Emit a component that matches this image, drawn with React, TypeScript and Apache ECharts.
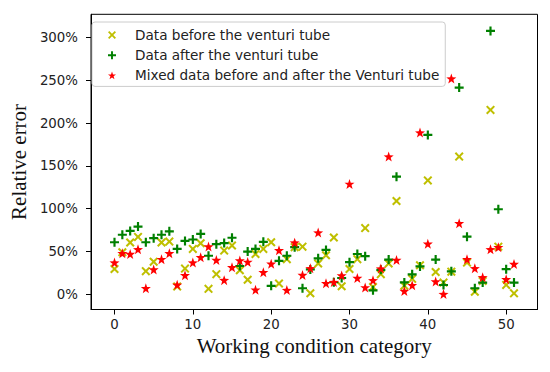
import React, { useEffect, useRef } from "react";
import * as echarts from "echarts";

const conditionIndex: number[] = Array.from({ length: 52 }, (_, i) => i);

// Relative error (%) per working condition category
const beforeVenturi: number[] = [
  29.5, 49, 60.5, 67, 27, 38, 60.5, 61.5, 9, 30,
  53, 59.6, 6.3, 23.5, 51, 57, 28, 17, 47, 53,
  60.7, 12.5, 41, 55, 55.6, 1.2, 36, 45.5, 66.3, 9.3,
  29.5, 41, 77.3, 8.5, 23.5, 36, 109, 10, 18, 33.8,
  133, 26, 13.6, 26.4, 160.8, 37, 3, 15.5, 215.3, 55.6,
  10.9, 1.1,
];
const afterVenturi: number[] = [
  60.7, 69.5, 74, 79, 60.7, 65.5, 69.5, 73.5, 53, 62.3,
  64, 70.5, 45, 58.5, 59.8, 66, 33, 49.8, 53, 61.2,
  9.8, 39, 45, 55, 7, 29, 42, 51.8, 14, 19,
  37.5, 47, 44.5, 4.6, 28.5, 40.5, 137.4, 13.8, 23.3, 32.5,
  186.1, 40.5, 10.8, 26.8, 241.4, 67.3, 7, 13.6, 307.6, 99.3,
  29.3, 13.6,
];
const mixedData: number[] = [
  37, 48, 47, 52.5, 7, 29, 41, 48, 11, 22.3,
  37, 43.2, 55.8, 40, 16.5, 31.5, 39.5, 37.8, 5.3, 25.8,
  35.6, 51.5, 4.9, 60.3, 22.5, 30.3, 72, 12.9, 14.2, 22,
  128.9, 19, 8, 16.3, 30, 160.8, 40, 3.9, 10.5, 188.8,
  59, 15, 0.2, 251.9, 83, 41, 30.3, 19.8, 52.5, 55,
  17.5, 35.4,
];

const seriesNames: string[] = [
  "Data before the venturi tube",
  "Data after the venturi tube",
  "Mixed data before and after the Venturi tube",
];
const xTicks: number[] = [0, 10, 20, 30, 40, 50];
const yTicks: number[] = [0, 50, 100, 150, 200, 250, 300];

const X_PATH =
  "path://M1.6,0 L5,3.4 L8.4,0 L10,1.6 L6.6,5 L10,8.4 L8.4,10 L5,6.6 L1.6,10 L0,8.4 L3.4,5 L0,1.6 Z";
const PLUS_PATH =
  "path://M3.8,0 L6.2,0 L6.2,3.8 L10,3.8 L10,6.2 L6.2,6.2 L6.2,10 L3.8,10 L3.8,6.2 L0,6.2 L0,3.8 L3.8,3.8 Z";
const STAR_PATH =
  "path://M5,0 L6.176,3.382 L9.755,3.455 L6.902,5.618 L7.939,9.045 L5,7 L2.061,9.045 L3.098,5.618 L0.245,3.455 L3.824,3.382 Z";

const colors = ["#bfbf00", "#008000", "#ff0000"];

export default function App() {
  const ref = useRef<HTMLDivElement>(null);
  useEffect(() => {
    if (!ref.current) return;
    const chart = echarts.init(ref.current, null, { renderer: "svg" });
    const mk = (vals: number[]) => conditionIndex.map((x, i) => [x, vals[i]]);
    const tickFont = {
      fontFamily: "DejaVu Sans",
      fontSize: 13.33,
      color: "#222",
    };
    chart.setOption({
      animation: false,
      backgroundColor: "#ffffff",
      grid: {
        left: 86,
        right: 12.5,
        top: 14.3,
        bottom: 62.5,
        show: true,
        borderColor: "#000",
        borderWidth: 1,
        backgroundColor: "transparent",
      },
      legend: {
        orient: "vertical",
        left: 92,
        top: 22,
        padding: [6, 6, 4, 16],
        itemGap: 6.2,
        itemWidth: 8,
        itemHeight: 8,
        borderColor: "#cccccc",
        borderWidth: 1,
        borderRadius: 3,
        backgroundColor: "rgba(255,255,255,0.8)",
        textStyle: {
          fontFamily: "DejaVu Sans",
          fontSize: 13.6,
          color: "#222",
          lineHeight: 14,
          padding: [0, 0, 0, 14],
        },
        data: [
          { name: seriesNames[0], icon: X_PATH },
          { name: seriesNames[1], icon: PLUS_PATH },
          { name: seriesNames[2], icon: STAR_PATH },
        ],
      },
      xAxis: {
        type: "value",
        min: -3,
        max: 54,
        name: "Working condition category",
        nameLocation: "middle",
        nameGap: 17,
        nameTextStyle: {
          fontFamily: "Liberation Serif",
          fontSize: 21,
          color: "#111",
        },
        axisLine: { show: true, onZero: false, lineStyle: { color: "#000", width: 1 } },
        axisTick: {
          show: true,
          length: 5,
          inside: false,
          lineStyle: { color: "#000" },
          customValues: xTicks,
        },
        axisLabel: { ...tickFont, margin: 8, customValues: xTicks },
        splitLine: { show: false },
      },
      yAxis: {
        type: "value",
        min: -17.8,
        max: 327,
        name: "Relative error",
        nameLocation: "middle",
        nameGap: 58,
        nameTextStyle: {
          fontFamily: "Liberation Serif",
          fontSize: 21,
          color: "#111",
        },
        axisLine: { show: true, onZero: false, lineStyle: { color: "#000", width: 1 } },
        axisTick: {
          show: true,
          length: 5,
          inside: false,
          lineStyle: { color: "#000" },
          customValues: yTicks,
        },
        axisLabel: {
          ...tickFont,
          margin: 13,
          customValues: yTicks,
          formatter: (v: number) => `${v}%`,
        },
        splitLine: { show: false },
      },
      series: [
        {
          name: seriesNames[0],
          type: "scatter",
          symbol: X_PATH,
          symbolSize: 9,
          itemStyle: { color: colors[0], opacity: 1 },
          data: mk(beforeVenturi),
        },
        {
          name: seriesNames[1],
          type: "scatter",
          symbol: PLUS_PATH,
          symbolSize: 9,
          itemStyle: { color: colors[1], opacity: 1 },
          data: mk(afterVenturi),
        },
        {
          name: seriesNames[2],
          type: "scatter",
          symbol: STAR_PATH,
          symbolSize: 10,
          itemStyle: { color: colors[2], opacity: 1 },
          data: mk(mixedData),
        },
      ],
    });
    return () => chart.dispose();
  }, []);
  return <div ref={ref} style={{ width: 550, height: 372, position: "absolute", left: 0, top: 0 }} />;
}
